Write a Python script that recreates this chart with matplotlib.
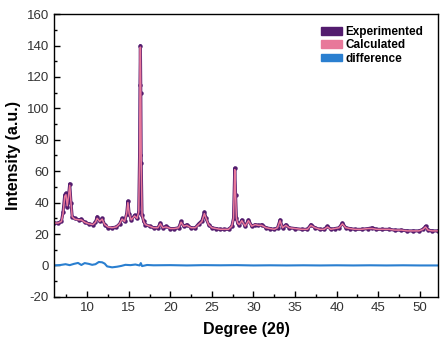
import matplotlib.pyplot as plt
from matplotlib.patches import Patch
from matplotlib.ticker import MultipleLocator

plt.rcParams['font.family'] = ['Liberation Sans', 'DejaVu Sans']
plt.rcParams['axes.unicode_minus'] = False

exp_x = [6.0, 6.5, 6.9, 7.1, 7.3, 7.45, 7.6, 7.75, 7.9, 8.05, 8.2, 8.5, 9.0, 9.3, 9.7,
         10.2, 10.7, 11.0, 11.2, 11.5, 11.8, 12.1, 12.5, 13.0, 13.5, 13.9, 14.2, 14.5,
         14.75, 14.9, 15.05, 15.3, 15.7, 16.0, 16.2, 16.3, 16.35, 16.4, 16.45, 16.5,
         16.6, 16.8, 17.0, 17.5, 18.0, 18.5, 18.8, 19.1, 19.5, 20.0, 20.5, 21.0, 21.3,
         21.6, 22.0, 22.5, 23.0, 23.4, 23.8, 24.1, 24.3, 24.6, 25.0, 25.5, 26.0, 26.5,
         27.0, 27.4, 27.6, 27.75, 27.85, 27.95, 28.1, 28.3, 28.6, 29.0, 29.4, 29.8,
         30.2, 30.6, 31.0, 31.5, 32.0, 32.5, 32.9, 33.2, 33.5, 33.9, 34.3, 35.0, 35.8,
         36.5, 36.9, 37.4, 38.0, 38.5, 38.9, 39.3, 39.8, 40.3, 40.7, 41.1, 41.6, 42.2,
         43.0, 43.8, 44.3, 44.8, 45.5, 46.3, 47.0, 47.8, 48.5, 49.2, 49.9, 50.4, 50.7,
         51.0, 51.5, 52.2]
exp_y = [27, 27, 28, 34, 45, 46, 37, 44, 52, 40, 31, 30, 29, 29.5, 27.5,
         26.5, 26, 27.5, 31, 28, 30, 26, 24, 24, 24.5, 26.5, 30, 28,
         33, 41, 33, 29, 32, 30, 34, 70, 115, 140, 110, 65,
         32, 28, 26, 25, 24, 24, 27, 24, 25, 23.5, 23.5, 24, 28,
         25, 26, 24, 24, 26.5, 28.5, 34, 30, 26, 24, 23.5, 23, 23,
         23, 25, 30, 62, 45, 30, 27, 26, 29, 25, 29, 25,
         26, 25.5, 26, 24, 23.5, 23, 24, 29, 24, 26, 24, 23.5, 23,
         23, 26, 24, 23, 23, 25, 23, 23.5, 24, 27, 24, 23.5, 23,
         23, 23.5, 24, 23, 23, 23, 22.5, 22.5, 22, 22, 22, 23, 25,
         22.5, 22, 22]

# calculated profile
calc_x = exp_x
calc_y = [27, 27, 28, 33, 44, 45, 38, 44, 51, 40, 31, 29.5, 29, 29, 27.5,
          26.5, 26, 27.5, 30, 28, 29.5, 26, 24.5, 24, 24.5, 26.5, 29.5, 28,
          33, 40, 33, 29, 31.5, 30, 34, 70, 115, 139, 110, 65,
          32, 28, 26, 25, 24, 24, 26.5, 24, 24.5, 23.5, 23.5, 24, 27.5,
          25, 25.5, 24, 24, 26, 28, 33, 30, 26, 24, 23.5, 23, 23,
          23, 25, 30, 61, 45, 30, 27, 26, 28.5, 25, 28.5, 25,
          26, 25.5, 25.5, 24, 23.5, 23, 24, 28.5, 24, 25.5, 24, 23.5, 23,
          23, 25.5, 24, 23, 23, 24.5, 23, 23.5, 24, 26.5, 24, 23.5, 23,
          23, 23.5, 23.5, 23, 23, 23, 22.5, 22.5, 22, 22, 22, 23, 24.5,
          22.5, 22, 22]

# difference curve
diff_x = [6.0, 6.8, 7.4, 7.9, 8.4, 8.9, 9.3, 9.7, 10.2, 10.6, 11.0, 11.4, 11.8,
          12.1, 12.4, 13.0, 13.6, 14.1, 14.6, 15.2, 15.8, 16.3, 16.45, 16.6, 17.2,
          18.0, 20.0, 22.0, 24.0, 26.0, 28.0, 30.0, 32.0, 34.0, 36.0, 38.0, 40.0,
          42.0, 44.0, 46.0, 48.0, 50.0, 52.2]
diff_y = [0, 0.3, 0.8, 0.2, 1.0, 1.6, 0.3, 1.5, 1.0, 0.4, 0.8, 2.2, 2.0,
          1.2, -0.6, -1.2, -0.8, -0.3, 0.4, 0.2, 0.6, 0.0, 1.5, -0.4, 0.3,
          0.1, 0.2, 0.0, 0.2, 0.1, 0.2, 0.0, 0.1, 0.0, 0.1, 0.0, 0.1,
          0.0, 0.1, 0.0, 0.1, 0.0, 0.0]

c_exp = '#531c6e'
c_calc = '#e8789a'
c_diff = '#2a7fd0'

fig = plt.figure(figsize=(4.42, 3.44), dpi=100)
ax = fig.add_axes([0.122, 0.137, 0.869, 0.822])

ax.plot(exp_x, exp_y, color=c_exp, linewidth=2.2, marker='o', markersize=2.2)
ax.plot(calc_x, calc_y, color=c_calc, linewidth=1.1)
ax.plot(diff_x, diff_y, color=c_diff, linewidth=1.5)

ax.set_xlim(6, 52.2)
ax.set_ylim(-20, 160)
ax.xaxis.set_major_locator(MultipleLocator(5))
ax.xaxis.set_minor_locator(MultipleLocator(2.5))
ax.yaxis.set_major_locator(MultipleLocator(20))
ax.yaxis.set_minor_locator(MultipleLocator(10))
ax.tick_params(which='both', direction='in', top=False, right=False,
               labelsize=9.5, labelcolor='#333333', width=1)
ax.tick_params(which='major', length=4)
ax.tick_params(which='minor', length=2)
for s in ax.spines.values():
    s.set_linewidth(1)

ax.set_xlabel('Degree (2θ)', fontsize=11.5, fontweight='bold', labelpad=6)
ax.set_ylabel('Intensity (a.u.)', fontsize=11.5, fontweight='bold', labelpad=4)

handles = [Patch(color=c_exp, label='Experimented'),
           Patch(color=c_calc, label='Calculated'),
           Patch(color=c_diff, label='difference')]
ax.legend(handles=handles, loc='upper right', frameon=False,
          prop={'weight': 'bold', 'size': 8.5}, handlelength=1.8, handleheight=0.6,
          handletextpad=0.3, labelspacing=0.1, bbox_to_anchor=(0.99, 0.995))

fig.savefig('out.png', dpi=100)
